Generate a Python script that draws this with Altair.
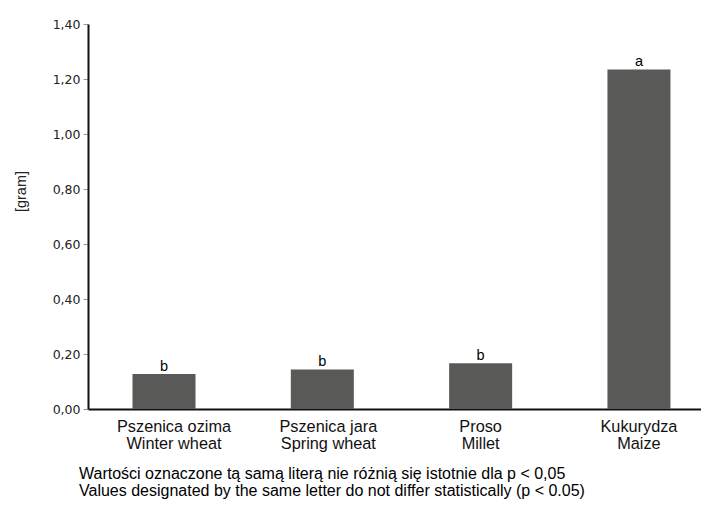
import altair as alt
import pandas as pd

categories = ["Pszenica ozima|Winter wheat", "Pszenica jara|Spring wheat", "Proso|Millet", "Kukurydza|Maize"]
values = [0.127, 0.144, 0.166, 1.235]
letters = ["b", "b", "b", "a"]
y_ticks = [0, 0.2, 0.4, 0.6, 0.8, 1.0, 1.2, 1.4]
footer = [
    "Wartości oznaczone tą samą literą nie różnią się istotnie dla p < 0,05",
    "Values designated by the same letter do not differ statistically (p < 0.05)",
]

df = pd.DataFrame({"cat": categories, "val": values, "letter": letters})

label_offset = {
    "condition": [
        {"test": f"datum.value === '{categories[0]}'", "value": 10},
        {"test": f"datum.value === '{categories[1]}'", "value": 6},
    ],
    "value": 0,
}

x = alt.X("cat:N", sort=categories, title=None,
          scale=alt.Scale(paddingInner=0.602, paddingOuter=0.237, align=0.593),
          axis=alt.Axis(labelExpr="split(datum.label, '|')", labelAngle=0, ticks=False,
                        labelFont="Liberation Sans", labelFontSize=16.3, labelLineHeight=17,
                        labelOffset=label_offset,
                        labelColor="#111", labelPadding=9, domainColor="#111", domainWidth=2))
y = alt.Y("val:Q", title="[gram]",
          scale=alt.Scale(domain=[0, 1.4], nice=False),
          axis=alt.Axis(values=y_ticks, grid=False,
                        labelExpr="replace(format(datum.value, '.2f'), '.', ',')",
                        labelFont="DejaVu Sans", labelFontSize=12.5, labelColor="#222",
                        labelPadding=3, tickSize=5, tickColor="#999", tickWidth=1,
                        domainColor="#111", domainWidth=2,
                        titleFont="Liberation Sans", titleFontSize=14.5, titleFontWeight="normal",
                        titleColor="#222", titleAngle=270, titleX=-67, titleY=167,
                        titleAlign="center", titleBaseline="middle"))

bars = alt.Chart(df).mark_bar(color="#595958").encode(x=x, y=y)
labels = alt.Chart(df).mark_text(font="Liberation Sans", fontSize=14.5, color="#000",
                                 baseline="alphabetic", dy=-3).encode(x=x, y=y, text="letter:N")

chart = (bars + labels).properties(
    width=613, height=385,
    padding={"left": 80, "top": 16, "right": 0, "bottom": 96},
    autosize=alt.AutoSizeParams(type="none"),
    title=alt.TitleParams(text=footer, orient="bottom", anchor="start", frame="group",
                          font="Liberation Sans", fontSize=16, fontWeight="normal",
                          lineHeight=17, color="#000", offset=15, dx=-9),
).configure_view(stroke=None)

chart.save("out.html", embed_options={"renderer": "svg", "actions": False})
